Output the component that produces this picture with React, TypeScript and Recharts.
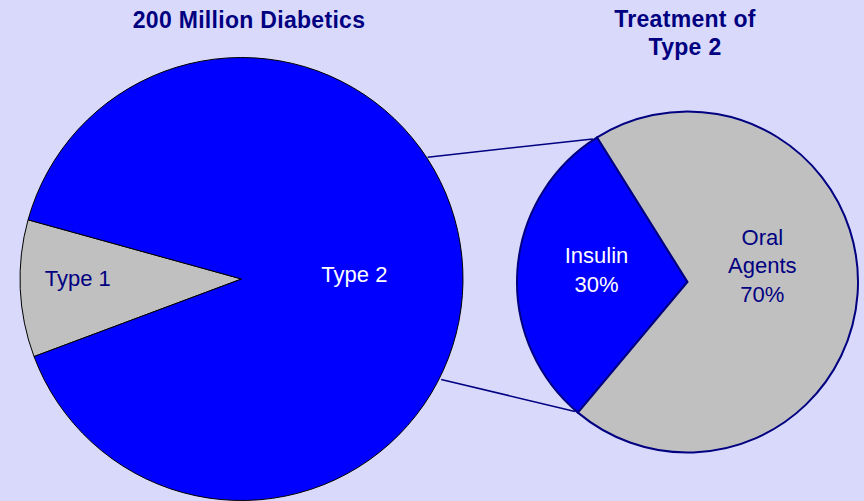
import React from "react";
import { PieChart, Pie, Cell, Customized } from "recharts";

// left pie: all diabetics
const diabetesTypes = ["Type 1", "Type 2"];
const diabetesShares = [10, 90];

// right pie: treatment of type 2
const treatmentNames = ["Insulin", "Oral Agents"];
const treatmentShares = [30, 70];

const leftData = diabetesTypes.map((name, i) => ({ name, value: diabetesShares[i] }));
const rightData = treatmentNames.map((name, i) => ({ name, value: treatmentShares[i] }));

const W = 864;
const H = 501;
const BG = "#D9D9FC";
const NAVY = "#000080";
const FONT = "'Liberation Sans', Arial, sans-serif";

const LEFT = { cx: 241.5, cy: 279, r: 221.5, start: 164.5 };
const RIGHT = { cx: 687.5, cy: 282, r: 170.5, start: 122 };

const leftColors = ["#C0C0C0", "#0000FF"];
const rightColors = ["#0000FF", "#C0C0C0"];

const RAD = Math.PI / 180;

function polar(cx: number, cy: number, r: number, deg: number) {
  return { x: cx + r * Math.cos(deg * RAD), y: cy - r * Math.sin(deg * RAD) };
}

// label placement tweaks (radius ratio, vertical shift, colour)
const leftLabelStyle = [
  { ratio: 0.74, dy: -8, fill: NAVY },
  { ratio: 0.51, dy: 0, fill: "#FFFFFF" },
];
const rightLabelStyle = [
  { ratio: 0.535, dy: -6, fill: "#FFFFFF" },
  { ratio: 0.44, dy: -22, fill: NAVY },
];

function renderLeftLabel(props: any) {
  const { cx, cy, midAngle, outerRadius, index, name } = props;
  const s = leftLabelStyle[index];
  const p = polar(cx, cy, outerRadius * s.ratio, midAngle);
  return (
    <text
      x={p.x}
      y={p.y + s.dy}
      textAnchor="middle"
      dominantBaseline="central"
      fill={s.fill}
      fontFamily={FONT}
      fontSize={22}
    >
      {name}
    </text>
  );
}

function renderRightLabel(props: any) {
  const { cx, cy, midAngle, outerRadius, index, name, percent } = props;
  const s = rightLabelStyle[index];
  const p = polar(cx, cy, outerRadius * s.ratio, midAngle);
  const lines = [...name.split(" "), `${Math.round(percent * 100)}%`];
  const lh = 28.5;
  const top = p.y + s.dy - ((lines.length - 1) * lh) / 2;
  return (
    <text
      x={p.x}
      y={top}
      textAnchor="middle"
      dominantBaseline="central"
      fill={s.fill}
      fontFamily={FONT}
      fontSize={22}
    >
      {lines.map((l, i) => (
        <tspan key={i} x={p.x} y={top + i * lh} dominantBaseline="central">
          {l}
        </tspan>
      ))}
    </text>
  );
}

function Extras() {
  // connector lines from the big pie to the insulin wedge edges
  const insulinEnd = RIGHT.start + (treatmentShares[0] / 100) * 360;
  const a1 = polar(LEFT.cx, LEFT.cy, LEFT.r + 1, 33.2);
  const b1 = polar(RIGHT.cx, RIGHT.cy, RIGHT.r + 1, RIGHT.start + 1.5);
  const a2 = polar(LEFT.cx, LEFT.cy, LEFT.r + 2, -26.7);
  const b2 = polar(RIGHT.cx, RIGHT.cy, RIGHT.r + 1, insulinEnd - 1);
  const title = { fill: NAVY, fontFamily: FONT, fontWeight: "bold", fontSize: 23, letterSpacing: 0.3 };
  return (
    <g>
      <line x1={a1.x} y1={a1.y} x2={b1.x} y2={b1.y} stroke={NAVY} strokeWidth={1.5} />
      <line x1={a2.x} y1={a2.y} x2={b2.x} y2={b2.y} stroke={NAVY} strokeWidth={1.5} />
      <text x={249} y={28} textAnchor="middle" {...title}>
        200 Million Diabetics
      </text>
      <text x={685} y={27} textAnchor="middle" {...title}>
        Treatment of
      </text>
      <text x={685} y={55} textAnchor="middle" {...title}>
        Type 2
      </text>
    </g>
  );
}

export default function App() {
  return (
    <div style={{ position: "absolute", left: 0, top: 0, width: W, height: H, background: BG }}>
      <PieChart width={W} height={H} margin={{ top: 0, right: 0, bottom: 0, left: 0 }}>
        <Pie
          data={leftData}
          dataKey="value"
          nameKey="name"
          cx={LEFT.cx}
          cy={LEFT.cy}
          outerRadius={LEFT.r}
          startAngle={LEFT.start}
          endAngle={LEFT.start + 360}
          stroke="#000000"
          strokeWidth={1}
          label={renderLeftLabel}
          labelLine={false}
          isAnimationActive={false}
        >
          {leftData.map((d, i) => (
            <Cell key={d.name} fill={leftColors[i]} />
          ))}
        </Pie>
        <Pie
          data={rightData}
          dataKey="value"
          nameKey="name"
          cx={RIGHT.cx}
          cy={RIGHT.cy}
          outerRadius={RIGHT.r}
          startAngle={RIGHT.start}
          endAngle={RIGHT.start + 360}
          stroke={NAVY}
          strokeWidth={2}
          label={renderRightLabel}
          labelLine={false}
          isAnimationActive={false}
        >
          {rightData.map((d, i) => (
            <Cell key={d.name} fill={rightColors[i]} />
          ))}
        </Pie>
        <Customized component={Extras} />
      </PieChart>
    </div>
  );
}
